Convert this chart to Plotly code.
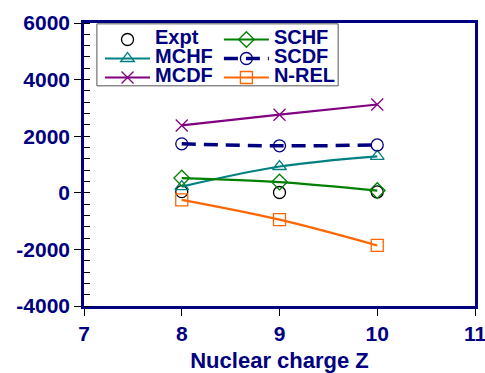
import plotly.graph_objects as go

Z = [8, 9, 10]
expt = [40, 10, 30]
schf = [520, 380, 80]
mchf = [220, 930, 1290]
scdf = [1730, 1660, 1690]
mcdf = [2380, 2760, 3120]
nrel = [-250, -950, -1860]

x_ticks = [7, 8, 9, 10, 11]
y_ticks = [-4000, -2000, 0, 2000, 4000, 6000]
y_labels = [str(v) for v in y_ticks]

NAVY = "#000080"
FONT = "Liberation Sans, Arial, sans-serif"

fig = go.Figure()

def add(name, y, color, symbol, legend, dash="solid", width=2.2, mode="lines+markers"):
    fig.add_trace(go.Scatter(
        x=Z, y=y, name="<span style='font-size:20px'>%s</span>" % name, mode=mode, legend=legend,
        line=dict(color=color, width=width, dash=dash, shape="spline"),
        marker=dict(symbol=symbol, size=12, color=color,
                    line=dict(color=color, width=1.3)),
    ))

add("Expt", expt, "black", "circle-open", "legend", mode="markers")
add("MCHF", mchf, "#008080", "triangle-up-open", "legend")
add("MCDF", mcdf, "#800080", "x-thin-open", "legend")
add("SCHF", schf, "#008000", "diamond-open", "legend2")
add("SCDF", scdf, NAVY, "circle-open", "legend2", dash="14px,8px", width=3.5)
add("N-REL", nrel, "#FF6600", "square-open", "legend2")

legfont = dict(family=FONT, size=12, color=NAVY, weight="bold")
tickfont = dict(family=FONT, size=21, color=NAVY, weight="bold")
fig.update_layout(
    width=485, height=373,
    margin=dict(l=84, r=10, t=23, b=67),
    plot_bgcolor="white", paper_bgcolor="white",
    font=dict(family=FONT, color=NAVY, size=18, weight="bold"),
    legend=dict(x=0.041, y=0.993, xanchor="left", yanchor="top", bgcolor="rgba(0,0,0,0)",
                font=legfont, tracegroupgap=0, itemwidth=45),
    legend2=dict(x=0.345, y=0.993, xanchor="left", yanchor="top", bgcolor="rgba(0,0,0,0)",
                 font=legfont, tracegroupgap=0, itemwidth=45),
    xaxis=dict(range=[7, 11], tickvals=x_ticks, ticks="outside", ticklen=7, tickwidth=1,
               tickcolor="black", showline=True, linecolor=NAVY, linewidth=2.5, mirror=True,
               showgrid=False, zeroline=False, tickfont=tickfont, automargin=False,
               ticklabeloverflow="allow",
               title=dict(text="Nuclear charge Z", standoff=14,
                          font=dict(family=FONT, size=22, color=NAVY, weight="bold"))),
    yaxis=dict(range=[-4000, 6000], tickvals=y_ticks, ticktext=y_labels, ticks="outside",
               ticklen=7, tickwidth=1, automargin=False, ticklabeloverflow="allow",
               tickcolor="black", showline=True, linecolor=NAVY, linewidth=2.5, mirror=True,
               showgrid=False, zeroline=False,
               minor=dict(dtick=400, ticks="inside", ticklen=6, tickcolor="black", tickwidth=1, showgrid=False),
               tickfont=tickfont),
    xaxis2=dict(overlaying="x", range=[7, 11], tickvals=x_ticks, ticks="inside", ticklen=6,
                tickcolor="black", tickwidth=1, showticklabels=False, showgrid=False,
                zeroline=False, showline=False, side="bottom", automargin=False),
    yaxis2=dict(overlaying="y", range=[-4000, 6000], tickvals=y_ticks, ticks="inside", ticklen=6,
                tickcolor="black", tickwidth=1, showticklabels=False, showgrid=False,
                zeroline=False, showline=False, side="left", automargin=False),
    shapes=[dict(type="rect", xref="paper", yref="paper", x0=0.033, x1=0.65, y0=0.778, y1=0.997,
                 line=dict(color="#555555", width=1))],
)

fig.write_html("out.html", config={"displayModeBar": False},
               post_script="document.body.style.margin='0';")
